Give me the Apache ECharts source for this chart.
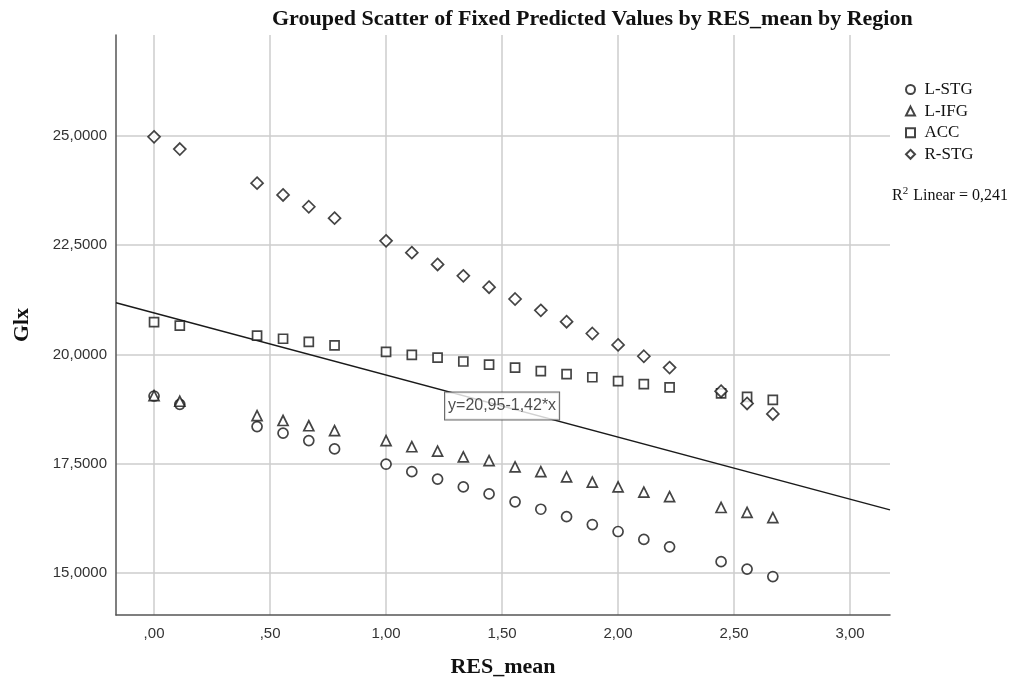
<!DOCTYPE html>
<html><head><meta charset="utf-8">
<script src="https://cdn.jsdelivr.net/npm/echarts@6/dist/echarts.min.js"></script>
<style>html,body{margin:0;padding:0;background:#fff}#c{width:1015px;height:686px}</style>
</head><body><div id="c"></div>
<script>
var xVals = [0, 0.111, 0.444, 0.556, 0.667, 0.778, 1.0, 1.111, 1.222, 1.333, 1.444, 1.556, 1.667, 1.778, 1.889, 2.0, 2.111, 2.222, 2.444, 2.556, 2.667];
var lstg = [19.05, 18.86, 18.35, 18.20, 18.03, 17.84, 17.49, 17.32, 17.15, 16.97, 16.81, 16.63, 16.46, 16.29, 16.11, 15.95, 15.77, 15.60, 15.26, 15.09, 14.92];
var lifg = [19.06, 18.93, 18.60, 18.49, 18.37, 18.26, 18.03, 17.89, 17.79, 17.66, 17.57, 17.43, 17.32, 17.20, 17.08, 16.97, 16.85, 16.75, 16.50, 16.39, 16.27];
var acc  = [20.74, 20.66, 20.43, 20.36, 20.29, 20.21, 20.06, 19.99, 19.93, 19.84, 19.77, 19.70, 19.62, 19.55, 19.48, 19.39, 19.32, 19.25, 19.11, 19.03, 18.96];
var rstg = [24.98, 24.70, 23.92, 23.65, 23.38, 23.12, 22.60, 22.33, 22.06, 21.80, 21.54, 21.27, 21.01, 20.75, 20.48, 20.22, 19.96, 19.70, 19.16, 18.88, 18.64];
var xTicks = [0, 0.5, 1.0, 1.5, 2.0, 2.5, 3.0];
var yTicks = [15, 17.5, 20, 22.5, 25];
var fitIntercept = 20.95, fitSlope = -1.42;
var xMin = -0.164, xMax = 3.172, yMin = 14.04, yMax = 27.31;
var fitLabelX = 1.5;

function pairs(ys){ return xVals.map(function(x,i){ return [x, ys[i]]; }); }
function fx(v){ var s = v.toFixed(2).replace('.', ','); return s.charAt(0)==='0' ? s.slice(1) : s; }
function fy(v){ return v.toFixed(4).replace('.', ','); }

var chart = echarts.init(document.getElementById('c'), null, {renderer:'canvas'});
var serif = 'Liberation Serif, Times New Roman, serif';
var sans = 'Liberation Sans, Arial, sans-serif';
function sc(name, sym, size, ys){
  return {name:name, type:'scatter', symbol:sym, symbolSize:size, data:pairs(ys),
    itemStyle:{color:'#ffffff', borderColor:'#151515', borderWidth:1.7}, z:3};
}
chart.setOption({
  animation:false,
  backgroundColor:'#ffffff',
  title:{text:'Grouped Scatter of Fixed Predicted Values by RES_mean by Region', left:267, top:3,
    textStyle:{fontFamily:serif, fontWeight:'bold', fontSize:22, color:'#111'}},
  legend:{orient:'vertical', left:900, top:76, itemWidth:9, itemHeight:9, itemGap:4.6,
    textStyle:{fontFamily:serif, fontSize:17, color:'#111', lineHeight:17, padding:[0,0,0,4.5]},
    data:['L-STG','L-IFG','ACC','R-STG']},
  grid:{left:116, right:125, top:35, bottom:71, containLabel:false},
  xAxis:{type:'value', min:xMin, max:xMax, name:'RES_mean', nameLocation:'middle', nameGap:41,
    nameTextStyle:{fontFamily:serif, fontWeight:'bold', fontSize:22, color:'#111'},
    axisLine:{show:true, onZero:false, lineStyle:{color:'#555', width:1.5}},
    axisTick:{show:false, customValues:xTicks},
    axisLabel:{customValues:xTicks, formatter:fx, fontFamily:sans, fontSize:15, color:'#333', margin:11},
    splitLine:{show:true, lineStyle:{color:'#cccccc', width:1.5}}},
  yAxis:{type:'value', min:yMin, max:yMax, name:'Glx', nameLocation:'middle', nameGap:83,
    nameTextStyle:{fontFamily:serif, fontWeight:'bold', fontSize:22, color:'#111'},
    axisLine:{show:true, onZero:false, lineStyle:{color:'#555', width:1.5}},
    axisTick:{show:false, customValues:yTicks},
    axisLabel:{customValues:yTicks, formatter:fy, fontFamily:sans, fontSize:15, color:'#333', margin:9},
    splitLine:{show:true, lineStyle:{color:'#cccccc', width:1.5}}},
  series:[
    sc('L-STG','circle',10,lstg),
    sc('L-IFG','triangle',10,lifg),
    sc('ACC','rect',9,acc),
    sc('R-STG','diamond',12,rstg),
    {name:'fit', type:'line', showSymbol:false, symbol:'none', silent:true, z:2,
      data:[[xMin, fitIntercept+fitSlope*xMin],[xMax, fitIntercept+fitSlope*xMax]],
      lineStyle:{color:'#1a1a1a', width:1.5}},
    {name:'fitLabel', type:'scatter', symbol:'circle', symbolSize:1, z:5, silent:true,
      itemStyle:{color:'rgba(0,0,0,0)'},
      data:[[fitLabelX, fitIntercept+fitSlope*fitLabelX]],
      label:{show:true, position:'inside', formatter:'y=20,95-1,42*x', fontFamily:sans, fontSize:16, color:'#222',
        backgroundColor:'#fff', borderColor:'#444', borderWidth:1, padding:[6,3,5,3]}}
  ],
  graphic:[{type:'text', left:892, top:186, style:{
    rich:{a:{fontFamily:serif, fontSize:16, fill:'#111'}, s:{fontFamily:serif, fontSize:11, fill:'#111', verticalAlign:'top', padding:[0,1,8,0]}},
    text:'{a|R}{s|2}{a| Linear = 0,241}'}}]
});
</script></body></html>
